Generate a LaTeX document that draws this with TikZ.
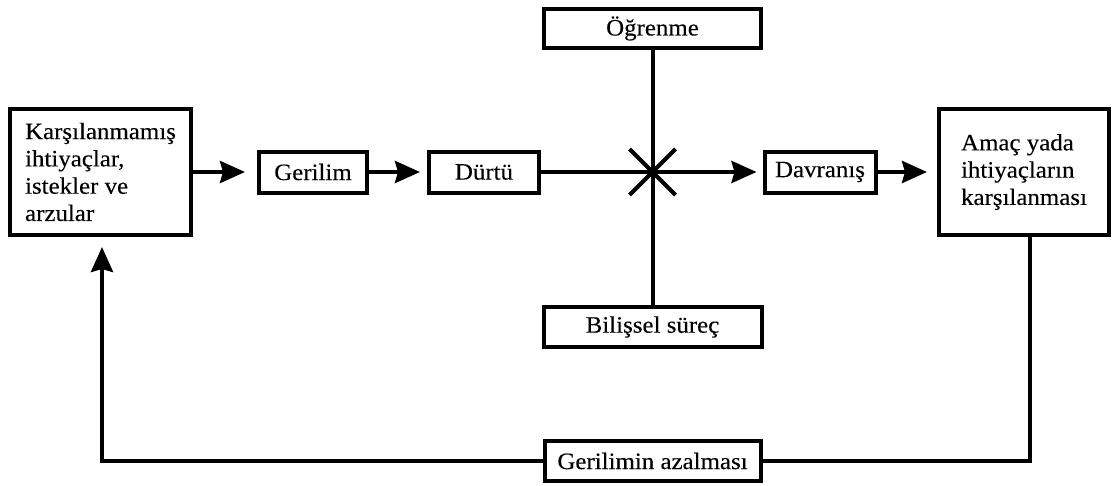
\documentclass[tikz,border=0pt]{standalone}
\usepackage{fontspec}
\setmainfont{Liberation Serif}[FakeStretch=1.06,FakeBold=0.2]
\usetikzlibrary{arrows.meta}
\begin{document}
\begin{tikzpicture}[x=1pt,y=-1pt,
  box/.style={draw,line width=4pt,inner sep=0pt,font=\fontsize{23.5}{27.3}\selectfont,align=left},
  conn/.style={line width=4pt},
  arr/.style={line width=4pt,-{Stealth[length=25pt,width=22pt,inset=3pt]}}]
\useasboundingbox (0,0) rectangle (1118,485);
\node[box,minimum width=181pt,minimum height=126pt] (need) at (100.5,172) {Karşılanmamış\\ihtiyaçlar,\\istekler ve\\arzular};
\node[box,minimum width=108pt,minimum height=41pt] (ger) at (313,172) {Gerilim};
\node[box,minimum width=110pt,minimum height=41pt] (durtu) at (484,172) {Dürtü};
\node[box,minimum width=111pt,minimum height=41pt] (dav) at (820,172) {Davranış};
\node[box,minimum width=170pt,minimum height=126pt] (goal) at (1024,172) {Amaç yada\\ihtiyaçların\\karşılanması};
\node[box,minimum width=217pt,minimum height=39pt] (ogr) at (652.5,28.5) {Öğrenme};
\node[box,minimum width=218pt,minimum height=40pt] (bil) at (652.5,327) {Bilişsel süreç};
\node[box,minimum width=216pt,minimum height=40pt] (azal) at (652.5,461) {Gerilimin azalması};
\coordinate (x) at (652.5,172);
\coordinate (gl) at (1030,461);
\coordinate (bl) at (102,461);
\draw[arr,shorten >=12pt] (need.east) -- (ger.west);
\draw[arr,shorten >=7pt] (ger.east) -- (durtu.west);
\draw[arr,shorten >=6pt] (durtu.east) -- (dav.west);
\draw[arr,shorten >=10pt] (dav.east) -- (goal.west);
\draw[conn] (ogr.south) -- (bil.north);
\draw[conn] ([shift={(-23,-23)}]x) -- ([shift={(23,23)}]x);
\draw[conn] ([shift={(-23,23)}]x) -- ([shift={(23,-23)}]x);
\draw[conn] (goal.south -| gl) -- (gl) -- (azal.east);
\draw[arr,shorten >=10pt] (azal.west) -- (bl) -- (bl |- need.south);
\end{tikzpicture}
\end{document}
